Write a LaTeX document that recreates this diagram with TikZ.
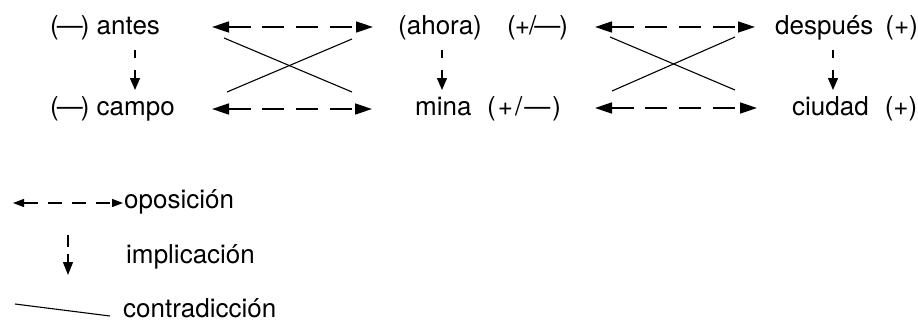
\documentclass[tikz,border=0pt]{standalone}
\usepackage{fontspec}
\setmainfont{TeX Gyre Heros}
\usetikzlibrary{arrows.meta}
\newcommand{\negdash}{(\kern-2pt—\kern-2pt)}
\begin{document}
\begin{tikzpicture}[x=1pt,y=-1pt,
  lbl/.style={anchor=base west,inner sep=0pt,font=\fontsize{26}{29}\selectfont},
  opos/.style={line width=1.6pt,{Triangle[length=17pt,width=11pt]}-{Triangle[length=17pt,width=11pt]},
    dash pattern=on 22pt off 11.7pt},
  impl/.style={line width=1.4pt,-{Triangle[length=12pt,width=10pt]},dash pattern=on 8pt off 12pt},
  contra/.style={line width=1.1pt},
  legopos/.style={line width=1.3pt,{Triangle[length=11pt,width=8pt]}-{Triangle[length=11pt,width=8pt]},
    dash pattern=on 14pt off 10pt},
  legimpl/.style={line width=1.4pt,-{Triangle[length=13pt,width=10pt]},dash pattern=on 12pt off 7pt}]
\useasboundingbox (0,0) rectangle (918,321);

% terms of the square
\node[lbl] (antes)   at (50,35)  {\negdash{} antes};
\node[lbl] (campo)   at (50,115) {\negdash{} campo};
\node[lbl] (ahora)   at (398,35) {(ahora)};
\node[lbl] (ahoraS)  at (507,35) {(\kern-1pt+\kern-1pt/\kern-2pt—\kern-1pt)};
\node[lbl] (mina)    at (415,115) {mina};
\node[lbl] (minaS)   at (487,115) {(\kern2pt+\kern2pt/\kern2pt—\kern2pt)};
\node[lbl] (despues) at (775,35) {después\hspace{12pt}(+)};
\node[lbl] (ciudad)  at (792,115) {ciudad\hspace{16pt}(+)};

% end points of the connectors
\coordinate (o1a) at (212,27);  \coordinate (o1b) at (373,27);
\coordinate (o2a) at (212,109); \coordinate (o2b) at (372,109);
\coordinate (o3a) at (595,27);  \coordinate (o3b) at (755,27);
\coordinate (o4a) at (595,108); \coordinate (o4b) at (757,108);

\coordinate (i1a) at (135,50); \coordinate (i1b) at (135,90);
\coordinate (i2a) at (442,50); \coordinate (i2b) at (442,90);
\coordinate (i3a) at (833,50); \coordinate (i3b) at (833,90);

\coordinate (c1a) at (224,38); \coordinate (c1b) at (352,92);
\coordinate (c2a) at (227,92); \coordinate (c2b) at (352,39);
\coordinate (c3a) at (610,37); \coordinate (c3b) at (735,90);
\coordinate (c4a) at (612,91); \coordinate (c4b) at (735,37);

% opposition
\draw[opos] (o1a) -- (o1b);
\draw[opos] (o2a) -- (o2b);
\draw[opos] (o3a) -- (o3b);
\draw[opos] (o4a) -- (o4b);

% implication
\draw[impl] (i1a) -- (i1b);
\draw[impl] (i2a) -- (i2b);
\draw[impl] (i3a) -- (i3b);

% contradiction
\draw[contra] (c1a) -- (c1b);
\draw[contra] (c2a) -- (c2b);
\draw[contra] (c3a) -- (c3b);
\draw[contra] (c4a) -- (c4b);

% legend
\node[lbl] (lopos)   at (124,208) {oposición};
\node[lbl] (limpl)   at (126,263) {implicación};
\node[lbl] (lcontra) at (123,317) {contradicción};

\coordinate (lo1) at (13,203);  \coordinate (lo2) at (123,203);
\coordinate (li1) at (68,235);  \coordinate (li2) at (68,275);
\coordinate (lc1) at (15,304);  \coordinate (lc2) at (110,316);

\draw[legopos] (lo1) -- (lo2);
\draw[legimpl] (li1) -- (li2);
\draw[contra] (lc1) -- (lc2);
\end{tikzpicture}
\end{document}
